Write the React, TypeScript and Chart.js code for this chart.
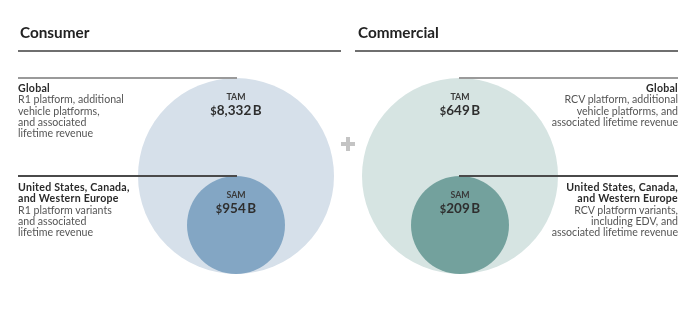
import React, { useEffect, useRef } from "react";
import { Chart, registerables } from "chart.js";
Chart.register(...registerables);

const segments = ["Consumer", "Commercial"];
const tamValues = [8332, 649];
const samValues = [954, 209];
const tamColors = ["#d6e0ea", "#d6e4e2"];
const samColors = ["#83a6c4", "#73a19d"];
const globalTexts = [
  ["R1 platform, additional", "vehicle platforms,", "and associated", "lifetime revenue"],
  ["RCV platform, additional", "vehicle platforms, and", "associated lifetime revenue"],
];
const samTitle = ["United States, Canada,", "and Western Europe"];
const samTexts = [
  ["R1 platform variants", "and associated", "lifetime revenue"],
  ["RCV platform variants,", "including EDV, and", "associated lifetime revenue"],
];
// relative circle sizes (share of the plot height used as diameter)
const tamSizeShare = 1;
const samSizeShare = 0.5;
const tamYPos = 0;
const samYPos = -0.5;

const FONT = "Lato, 'DejaVu Sans', sans-serif";

function fmt(v: number) {
  return v.toLocaleString("en-US");
}

export default function App() {
  const ref = useRef<HTMLCanvasElement | null>(null);

  useEffect(() => {
    document.body.style.margin = "0";
    const canvas = ref.current!;
    const chart = new Chart(canvas, {
      type: "bubble",
      data: {
        labels: segments,
        datasets: [
          {
            label: "SAM",
            data: segments.map((s) => ({ x: s as any, y: samYPos })),
            backgroundColor: samColors,
            borderWidth: 0,
            order: 0,
          } as any,
          {
            label: "TAM",
            data: segments.map((s) => ({ x: s as any, y: tamYPos })),
            backgroundColor: tamColors,
            borderWidth: 0,
            order: 1,
          } as any,
        ],
      },
      options: {
        animation: false,
        responsive: false,
        devicePixelRatio: 1,
        events: [],
        clip: false as any,
        layout: { autoPadding: false, padding: { left: 124, right: 123, top: 78, bottom: 36 } } as any,
        plugins: { legend: { display: false }, tooltip: { enabled: false } },
        scales: {
          x: { type: "category", offset: true, display: false },
          y: { type: "linear", min: -1, max: 1, display: false },
        },
      },
    });
    const y = chart.scales.y;
    const full = Math.abs(y.getPixelForValue(-1) - y.getPixelForValue(1));
    chart.data.datasets[0].data = segments.map((s) => ({ x: s as any, y: samYPos, r: (full / 2) * samSizeShare })) as any;
    chart.data.datasets[1].data = segments.map((s) => ({ x: s as any, y: tamYPos, r: (full / 2) * tamSizeShare })) as any;
    chart.update();
    return () => chart.destroy();
  }, []);

  const abs = (s: React.CSSProperties): React.CSSProperties => ({ position: "absolute", ...s });
  const line = (x1: number, x2: number, y: number, h: number, c: string) => (
    <div style={abs({ left: x1, top: y - h / 2, width: x2 - x1, height: h, background: c })} />
  );

  const bodyStyle: React.CSSProperties = {
    fontFamily: FONT,
    fontSize: 10.6,
    lineHeight: "11.3px",
    color: "#555",
    whiteSpace: "nowrap",
  };
  const boldStyle: React.CSSProperties = { fontWeight: 700, color: "#2a2a2a", letterSpacing: 0.25 };

  const centers = [236, 460];

  const valueLabel = (name: string, v: number, cx: number, top: number) => (
    <div style={abs({ left: cx - 50, width: 100, top, textAlign: "center", fontFamily: FONT, color: "#2e2e2e" })}>
      <div style={{ fontSize: 8.8, fontWeight: 700, lineHeight: "11px", color: "#3a3a3a" }}>{name}</div>
      <div style={{ fontSize: 13.5, fontWeight: 700, lineHeight: "16px", marginTop: 0 }}>
        <span style={{ fontSize: 11 }}>$</span>
        {fmt(v)}
        <span style={{ marginLeft: 1.5 }}>B</span>
      </div>
    </div>
  );

  const headStyle: React.CSSProperties = { fontFamily: FONT, fontWeight: 700, fontSize: 15.3, lineHeight: "18px", color: "#222" };

  return (
    <div style={{ position: "relative", width: 695, height: 310, background: "#fff", overflow: "hidden" }}>
      <canvas ref={ref} width={695} height={310} style={{ position: "absolute", left: 0, top: 0, width: 695, height: 310 }} />

      <div style={abs({ left: 20, top: 23, ...headStyle })}>{segments[0]}</div>
      <div style={abs({ left: 358, top: 23, ...headStyle })}>{segments[1]}</div>
      {line(18, 341, 51, 2, "#6f6f6f")}
      {line(355, 678, 51, 2, "#6f6f6f")}
      {line(18, 237, 78, 1.5, "#9a9a9a")}
      {line(459, 678, 78, 1.5, "#9a9a9a")}
      {line(18, 237, 176, 1.2, "#4a4a4a")}
      {line(459, 678, 176, 1.2, "#4a4a4a")}

      <div style={abs({ left: 18, top: 83, ...bodyStyle })}>
        <div style={boldStyle}>Global</div>
        {globalTexts[0].map((t, i) => (
          <div key={i}>{t}</div>
        ))}
      </div>
      <div style={abs({ right: 17, top: 83, textAlign: "right", ...bodyStyle })}>
        <div style={boldStyle}>Global</div>
        {globalTexts[1].map((t, i) => (
          <div key={i}>{t}</div>
        ))}
      </div>
      <div style={abs({ left: 18, top: 182, ...bodyStyle })}>
        {samTitle.map((t, i) => (
          <div key={"b" + i} style={boldStyle}>{t}</div>
        ))}
        {samTexts[0].map((t, i) => (
          <div key={i}>{t}</div>
        ))}
      </div>
      <div style={abs({ right: 17, top: 182, textAlign: "right", ...bodyStyle })}>
        {samTitle.map((t, i) => (
          <div key={"b" + i} style={boldStyle}>{t}</div>
        ))}
        {samTexts[1].map((t, i) => (
          <div key={i}>{t}</div>
        ))}
      </div>

      {centers.map((cx, i) => (
        <React.Fragment key={i}>
          {valueLabel("TAM", tamValues[i], cx, 91)}
          {valueLabel("SAM", samValues[i], cx, 189)}
        </React.Fragment>
      ))}

      <div style={abs({ left: 341, top: 141.5, width: 14, height: 4, background: "#c4c4c4" })} />
      <div style={abs({ left: 346, top: 136.5, width: 4, height: 14, background: "#c4c4c4" })} />
    </div>
  );
}
